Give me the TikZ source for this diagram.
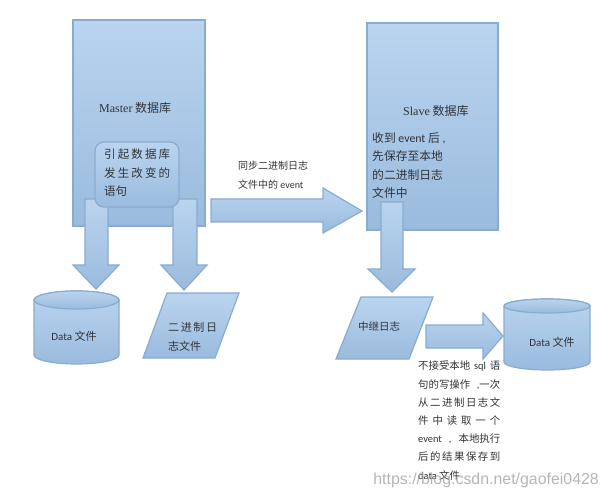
\documentclass[tikz,border=0pt]{standalone}
\usepackage{fontspec}
\setmainfont{Noto Sans CJK SC}
\newfontfamily\latf{Carlito}
\newfontfamily\serf{Liberation Serif}
\newfontfamily\wmf{Liberation Sans}
\definecolor{edgeblue}{HTML}{88ACD0}
\definecolor{fillhi}{HTML}{BAD4EF}
\definecolor{filllo}{HTML}{9ABBDE}
\definecolor{txt}{HTML}{303438}
\newcommand{\jl}[1]{\makebox[82pt][s]{#1}}
\tikzset{
  blockshape/.style={draw=edgeblue,line width=1.2pt,top color=fillhi,bottom color=filllo,line join=miter},
  label12/.style={inner sep=0pt,anchor=west,align=left,text=txt,font=\fontsize{11.5}{18.2}\selectfont},
  label10/.style={inner sep=0pt,anchor=west,align=left,text=txt,font=\fontsize{10}{18.6}\selectfont},
  labelnote/.style={inner sep=0pt,anchor=west,align=left,text=txt,font=\fontsize{10.4}{18.2}\selectfont},
}
\begin{document}
\begin{tikzpicture}[x=1pt,y=-1pt]
\useasboundingbox (0,0) rectangle (608,497);
\fill[white] (0,0) rectangle (608,497);

% Master
\path[blockshape] (73,20) rectangle (205,226);
\node[inner sep=0pt,anchor=west,text=txt,font=\fontsize{12}{14}\selectfont] (mastertxt) at (99,108) {{\serf Master} 数据库};
% down arrows under the Master
\path[blockshape] (85,199) -- (108,199) -- (108,265) -- (119,265) -- (96,289) -- (73,265) -- (85,265) -- cycle;
\path[blockshape] (173,199) -- (197,199) -- (197,265) -- (207,265) -- (184,290) -- (161,265) -- (173,265) -- cycle;
% statement box
\path[blockshape,rounded corners=9pt] (95,142) rectangle (179,207);
\node[label12,font=\fontsize{11.5}{18.4}\selectfont] (stmt) at (104,173) {\makebox[66pt][s]{引 起 数 据 库}\\\makebox[66pt][s]{发 生 改 变 的}\\语句};

% Data file left
\path[blockshape] (34,300) -- (34,355) arc[start angle=180,end angle=360,x radius=42.5pt,y radius=9pt] -- (119,300) arc[start angle=0,end angle=180,x radius=42.5pt,y radius=9pt] -- cycle;
\path[blockshape] (76.5,300) ellipse[x radius=42.5pt,y radius=9pt];
\node[inner sep=0pt,text=txt,font=\fontsize{11}{14}\selectfont] (dataleft) at (74,336) {{\latf Data} 文件};

% Binary log
\path[blockshape] (167,293) -- (239,293) -- (215,358) -- (143,358) -- cycle;
\node[label12,font=\fontsize{11}{19}\selectfont] (binlog) at (168,336.5) {\makebox[48pt][s]{二 进 制 日}\\志文件};

% Sync arrow
\path[blockshape] (211,199) -- (323,199) -- (323,188) -- (362,211) -- (323,233) -- (323,222) -- (211,222) -- cycle;
\node[label10] (synctxt) at (238,175.5) {同步二进制日志\\文件中的{\latf\ event}};

% Slave
\path[blockshape] (367,23) rectangle (498,230);
\node[inner sep=0pt,anchor=west,text=txt,font=\fontsize{12}{14}\selectfont] (slavetxt) at (403,111) {{\serf Slave} 数据库};
\node[label12,font=\fontsize{11.8}{18.4}\selectfont] (recvtxt) at (372,165.5) {收到{\latf\ event }后{\latf\ ,}\\先保存至本地\\的二进制日志\\文件中};
\path[blockshape] (381,202) -- (403,202) -- (403,269) -- (415,269) -- (392,292) -- (368,269) -- (381,269) -- cycle;

% Relay log
\path[blockshape] (361,297) -- (433,297) -- (409,359) -- (336,359) -- cycle;
\node[inner sep=0pt,anchor=west,text=txt,font=\fontsize{10.5}{14}\selectfont] (relay) at (358,326) {中继日志};

% Apply arrow
\path[blockshape] (426,325) -- (483,325) -- (483,313) -- (503,336) -- (483,359) -- (483,348) -- (426,348) -- cycle;

% Data file right
\path[blockshape] (504,306) -- (504,362) arc[start angle=180,end angle=360,x radius=43pt,y radius=8pt] -- (590,306) arc[start angle=0,end angle=180,x radius=43pt,y radius=7pt] -- cycle;
\path[blockshape] (547,306) ellipse[x radius=43pt,y radius=7pt];
\node[inner sep=0pt,text=txt,font=\fontsize{11}{14}\selectfont] (dataright) at (552,342) {{\latf Data} 文件};

% Note
\node[labelnote] (note) at (418,420.5) {\jl{不接受本地{\latf\ sql\ }语}\\\jl{句的写操作{\latf\ ,}一次}\\\jl{从 二 进 制 日 志 文}\\\jl{件 中 读 取 一 个}\\\jl{{\latf event\ ,\ }本地执行}\\\jl{后 的 结 果 保 存 到}\\{\latf data} 文件};

% Watermark
\node[inner sep=0pt,anchor=east,text=black!38,opacity=.75,font=\wmf\fontsize{15.9}{18}\selectfont] (mark) at (599,480) {https://blog.csdn.net/gaofei0428};
\end{tikzpicture}
\end{document}
